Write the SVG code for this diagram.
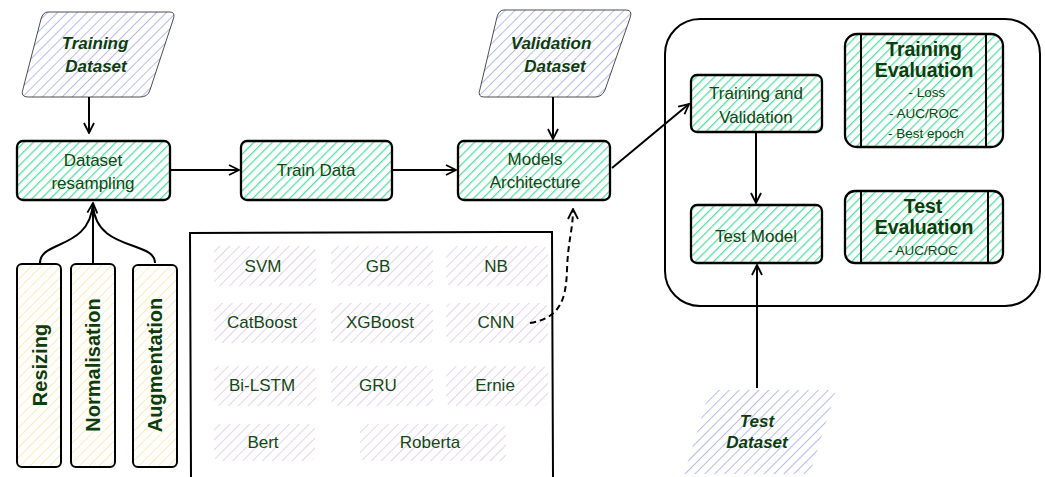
<svg xmlns="http://www.w3.org/2000/svg" width="1045" height="477" viewBox="0 0 1045 477">
<defs>
<pattern id="hg" width="6.5" height="6.5" patternUnits="userSpaceOnUse" patternTransform="rotate(45)"><line x1="0" y1="0" x2="0" y2="6.5" stroke="#55e2a2" stroke-width="2.6"/></pattern>
<pattern id="hb" width="7" height="7" patternUnits="userSpaceOnUse" patternTransform="rotate(45)"><line x1="0" y1="0" x2="0" y2="7" stroke="#b9baf3" stroke-width="2"/></pattern>
<pattern id="hp" width="7" height="7" patternUnits="userSpaceOnUse" patternTransform="rotate(45)"><line x1="0" y1="0" x2="0" y2="7" stroke="#dccbe8" stroke-width="1.6"/></pattern>
<pattern id="hy" width="7" height="7" patternUnits="userSpaceOnUse" patternTransform="rotate(45)"><line x1="0" y1="0" x2="0" y2="7" stroke="#fbeab0" stroke-width="1.8"/></pattern>
<marker id="ah" viewBox="0 0 12 12" refX="11" refY="6" markerWidth="12" markerHeight="12" markerUnits="userSpaceOnUse" orient="auto"><path d="M1,1 L11,6 L1,11" fill="none" stroke="#000" stroke-width="1.8"/></marker>
<style>
.box{stroke:#000;stroke-width:2.3;fill:url(#hg)}
.t{font-family:"Liberation Sans",Arial,sans-serif;font-size:17px;fill:#134713;text-anchor:middle}
.bi{font-family:"Liberation Sans",Arial,sans-serif;font-size:17px;font-weight:bold;font-style:italic;fill:#0d3d0d;text-anchor:middle}
.b{font-family:"Liberation Sans",Arial,sans-serif;font-size:19.5px;font-weight:bold;fill:#0d3d0d;text-anchor:middle}
.r{font-family:"Liberation Sans",Arial,sans-serif;font-size:20px;font-weight:bold;fill:#0d3d0d;text-anchor:middle}
.s{font-family:"Liberation Sans",Arial,sans-serif;font-size:13.5px;fill:#134713;text-anchor:middle}
.c{fill:none;stroke:#000;stroke-width:2}
</style>
</defs>
<rect width="1045" height="477" fill="#fff"/>

<g id="container"><rect x="665" y="19" width="375" height="287" rx="35" fill="none" stroke="#000" stroke-width="2"/></g>
<g id="models-list"><path d="M191,477 L190,233 L552,232 L553,477" fill="none" stroke="#000" stroke-width="2"/></g>

<g id="training-dataset">
<path d="M48,12 L170,12 Q176,12 173,20 L150,90 Q148,97 140,97 L28,97 Q20,97 23,89 L41,19 Q43,12 48,12 Z" fill="url(#hb)" stroke="#222" stroke-width="0.8"/>
<text class="bi" x="95" y="49">Training</text><text class="bi" x="96" y="72">Dataset</text>
</g>
<g id="validation-dataset">
<path d="M504,10 L626,10 Q633,10 630,18 L605,90 Q602,97 595,97 L484,97 Q477,97 480,89 L497,17 Q499,10 504,10 Z" fill="url(#hb)" stroke="#222" stroke-width="0.8"/>
<text class="bi" x="551" y="49">Validation</text><text class="bi" x="555" y="72">Dataset</text>
</g>
<g id="test-dataset">
<path d="M710,390 L836,390 L810,474 L684,474 Z" fill="url(#hb)"/>
<text class="bi" x="757" y="427">Test</text><text class="bi" x="757" y="448">Dataset</text>
</g>

<g id="dataset-resampling"><rect class="box" x="17" y="141" width="153" height="59" rx="6"/><text class="t" x="93" y="166">Dataset</text><text class="t" x="93" y="189">resampling</text></g>
<g id="train-data"><rect class="box" x="241" y="141" width="151" height="59" rx="6"/><text class="t" x="316" y="176">Train Data</text></g>
<g id="models-architecture"><rect class="box" x="458" y="141" width="152" height="59" rx="6"/><text class="t" x="535" y="165">Models</text><text class="t" x="535" y="188">Architecture</text></g>

<g id="training-validation"><rect class="box" x="691" y="75" width="131" height="57" rx="6"/><text class="t" x="756" y="99">Training and</text><text class="t" x="756" y="123">Validation</text></g>
<g id="test-model"><rect class="box" x="691" y="205" width="131" height="58" rx="6"/><text class="t" x="756" y="242">Test Model</text></g>

<g id="training-evaluation"><rect class="box" x="845" y="34" width="158" height="113" rx="12"/><line x1="861" y1="34" x2="861" y2="147" stroke="#000" stroke-width="2"/><line x1="986" y1="34" x2="986" y2="147" stroke="#000" stroke-width="2"/>
<text class="b" x="924" y="56">Training</text><text class="b" x="924" y="77">Evaluation</text><text class="s" x="927" y="97">- Loss</text><text class="s" x="924" y="118">- AUC/ROC</text><text class="s" x="926" y="138">- Best epoch</text></g>
<g id="test-evaluation"><rect class="box" x="845" y="191" width="158" height="72" rx="10"/><line x1="861" y1="191" x2="861" y2="263" stroke="#000" stroke-width="2"/><line x1="988" y1="191" x2="988" y2="263" stroke="#000" stroke-width="2"/>
<text class="b" x="923" y="213">Test</text><text class="b" x="924" y="234">Evaluation</text><text class="s" x="923" y="255">- AUC/ROC</text></g>

<g id="resizing"><rect x="17" y="264" width="44" height="203" rx="5" fill="url(#hy)" stroke="#000" stroke-width="2"/><text class="r" transform="translate(47,365) rotate(-90)">Resizing</text></g>
<g id="normalisation"><rect x="71" y="264" width="44" height="203" rx="5" fill="url(#hy)" stroke="#000" stroke-width="2"/><text class="r" transform="translate(100,365) rotate(-90)">Normalisation</text></g>
<g id="augmentation"><rect x="133" y="265" width="44" height="202" rx="5" fill="url(#hy)" stroke="#000" stroke-width="2"/><text class="r" transform="translate(162,365) rotate(-90)">Augmentation</text></g>

<g id="model-items">
<rect x="214" y="246" width="102" height="40" rx="6" fill="url(#hp)"/><text class="t" x="263" y="272">SVM</text>
<rect x="331" y="246" width="102" height="40" rx="6" fill="url(#hp)"/><text class="t" x="378" y="272">GB</text>
<rect x="446" y="246" width="102" height="40" rx="6" fill="url(#hp)"/><text class="t" x="496" y="272">NB</text>
<rect x="214" y="303" width="102" height="40" rx="6" fill="url(#hp)"/><text class="t" x="262" y="328">CatBoost</text>
<rect x="331" y="303" width="102" height="40" rx="6" fill="url(#hp)"/><text class="t" x="380" y="328">XGBoost</text>
<rect x="446" y="303" width="102" height="40" rx="6" fill="url(#hp)"/><text class="t" x="496" y="328">CNN</text>
<rect x="214" y="366" width="102" height="40" rx="6" fill="url(#hp)"/><text class="t" x="262" y="391">Bi-LSTM</text>
<rect x="331" y="366" width="102" height="40" rx="6" fill="url(#hp)"/><text class="t" x="378" y="391">GRU</text>
<rect x="446" y="366" width="102" height="40" rx="6" fill="url(#hp)"/><text class="t" x="495" y="391">Ernie</text>
<rect x="214" y="424" width="101" height="37" rx="6" fill="url(#hp)"/><text class="t" x="263" y="448">Bert</text>
<rect x="360" y="424" width="146" height="37" rx="6" fill="url(#hp)"/><text class="t" x="430" y="448">Roberta</text>
</g>

<g id="connectors">
<path class="c" d="M89,97 L89,133" marker-end="url(#ah)"/>
<path class="c" d="M170,170 L239,170" marker-end="url(#ah)"/>
<path class="c" d="M392,170 L456,170" marker-end="url(#ah)"/>
<path class="c" d="M553,97 L553,139" marker-end="url(#ah)"/>
<path class="c" d="M612,168 L689,104" marker-end="url(#ah)"/>
<path class="c" d="M756,132 L756,203" marker-end="url(#ah)"/>
<path class="c" d="M757,388 L757,265" marker-end="url(#ah)"/>
<path class="c" d="M40,263 C40,240 90,250 93,203" marker-end="url(#ah)"/>
<path class="c" d="M93,263 L93,203"/>
<path class="c" d="M155,263 C155,240 96,252 93,205"/>
<path class="c" d="M530,323 C560,318 566,300 567,270 C568,240 573,230 573,209" stroke-dasharray="6 4" marker-end="url(#ah)"/>
</g>
</svg>
